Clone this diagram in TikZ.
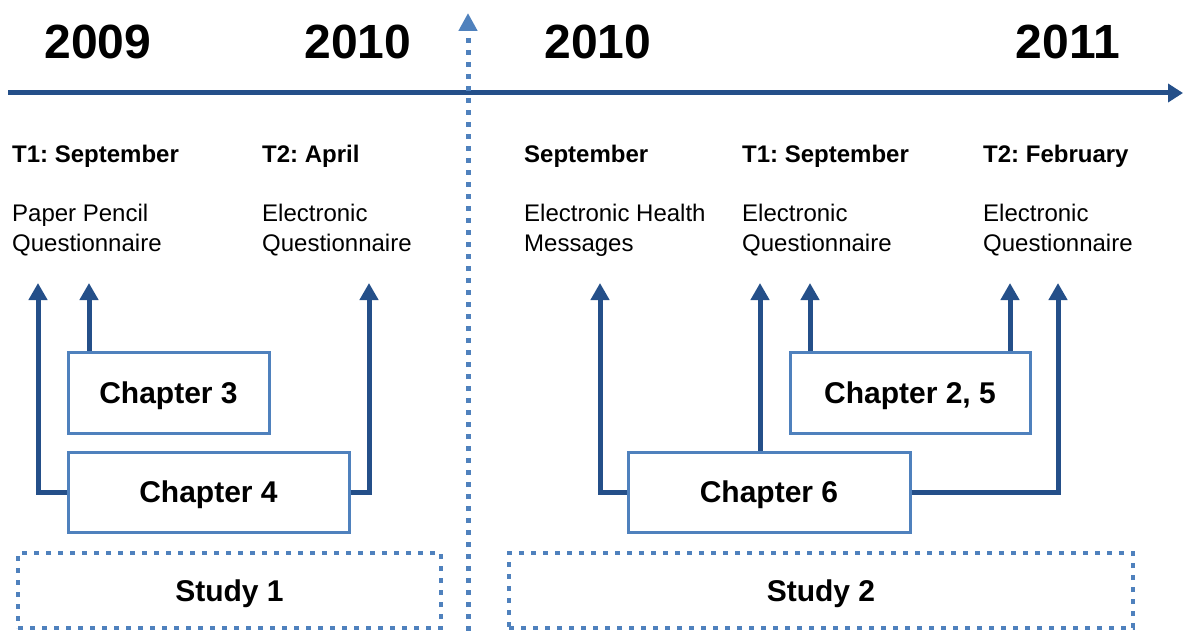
\documentclass[tikz,border=0pt]{standalone}
\usepackage{fontspec}
\setmainfont{Liberation Sans}
\frenchspacing
\usetikzlibrary{arrows.meta}
\definecolor{navy}{RGB}{36,79,137}
\definecolor{lightblue}{RGB}{79,129,189}
\tikzset{
  year/.style={inner sep=0,font=\fontsize{48}{48}\selectfont\bfseries},
  when/.style={anchor=base west,inner sep=0,font=\fontsize{24}{30}\selectfont\bfseries},
  what/.style={anchor=north west,inner sep=0,align=left,font=\fontsize{24}{30}\selectfont},
  chapter/.style={draw=lightblue,line width=3pt,fill=white,inner sep=0,text depth=0pt,font=\fontsize{30}{30}\selectfont\bfseries},
  study/.style={draw=lightblue,line width=4pt,dash pattern=on 5pt off 7pt,inner sep=0,text depth=0pt,minimum height=75pt,font=\fontsize{30}{30}\selectfont\bfseries},
  link/.style={draw=navy,line width=5pt,-{Triangle[width=18pt,length=17pt]}},
}
\begin{document}
\begin{tikzpicture}[x=1pt,y=-1pt]
\useasboundingbox (0,0) rectangle (1186,631);
% Time axis and divider
\coordinate (axisL) at (8,93);
\coordinate (axisR) at (1183,93);
\coordinate (divB) at (468,631);
\coordinate (divT) at (468,13);
\draw[navy,line width=5pt,-{Triangle[width=18pt,length=15pt]}] (axisL) -- (axisR);
\draw[lightblue,line width=5pt,dash pattern=on 5pt off 7pt,-{Triangle[width=18pt,length=18pt]}] (divB) -- (divT);
% Years
\node[year] (y2009) at (98,42) {2009};
\node[year] (y2010a) at (358,42) {2010};
\node[year] (y2010b) at (598,42) {2010};
\node[year] (y2011) at (1068,42) {2011};
% Measurements
\node[when] (w1) at (12,163) {T1: September};
\node[when] (w2) at (262,163) {T2: April};
\node[when] (w3) at (524,163) {September};
\node[when] (w4) at (742,163) {T1: September};
\node[when] (w5) at (983,163) {T2: February};
\node[what] (m1) at (12,204) {Paper Pencil\\Questionnaire};
\node[what] (m2) at (262,204) {Electronic\\Questionnaire};
\node[what] (m3) at (524,204) {Electronic Health\\Messages};
\node[what] (m4) at (742,204) {Electronic\\Questionnaire};
\node[what] (m5) at (983,204) {Electronic\\Questionnaire};
% Chapters
\node[chapter,minimum width=201pt,minimum height=81pt] (ch3) at (168.5,392.5) {Chapter 3};
\node[chapter,minimum width=281pt,minimum height=80pt] (ch4) at (208.5,492) {Chapter 4};
\node[chapter,minimum width=240pt,minimum height=81pt] (ch25) at (910,392.5) {Chapter 2, 5};
\node[chapter,minimum width=282pt,minimum height=80pt] (ch6) at (769,492) {Chapter 6};
% Studies
\node[study,minimum width=423pt] (s1) at (229.5,590.5) {Study 1};
\node[study,minimum width=624pt] (s2) at (821,590.5) {Study 2};
% Arrow tips
\coordinate (tA) at (38,283);
\coordinate (tB) at (89,283);
\coordinate (tC) at (369,283);
\coordinate (tD) at (600,283);
\coordinate (tE) at (760,283);
\coordinate (tF) at (810,283);
\coordinate (tG) at (1010,283);
\coordinate (tH) at (1058,283);
% Links from chapters to measurements
\draw[link] (ch4.west) -| (tA);
\draw[link] (ch3.north -| tB) -- (tB);
\draw[link] (ch4.east) -| (tC);
\draw[link] (ch6.west) -| (tD);
\draw[link] (ch6.north -| tE) -- (tE);
\draw[link] (ch25.north -| tF) -- (tF);
\draw[link] (ch25.north -| tG) -- (tG);
\draw[link] (ch6.east) -| (tH);
\end{tikzpicture}
\end{document}
